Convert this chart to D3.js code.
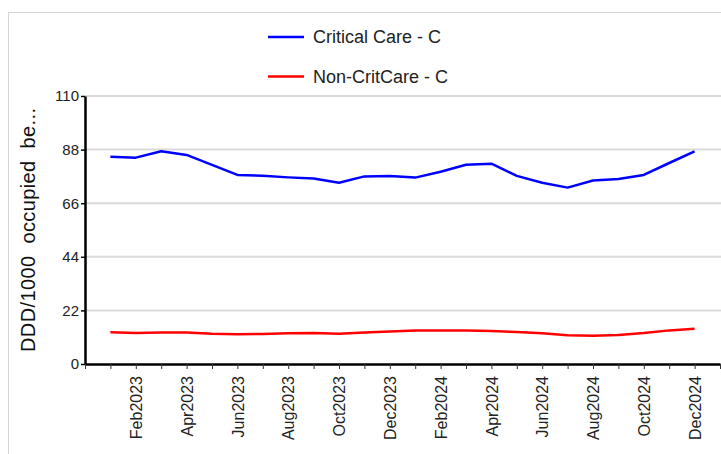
<!DOCTYPE html>
<html>
<head>
<meta charset="utf-8">
<script src="https://cdn.jsdelivr.net/npm/d3@7"></script>
<style>
  body { margin: 0; background: #fff; }
  svg { display: block; font-family: "Liberation Sans", Arial, sans-serif; }
</style>
</head>
<body>
<svg id="chart"></svg>
<script>
// month labels Jan2023 .. Dec2024
const months = ["Jan2023","Feb2023","Mar2023","Apr2023","May2023","Jun2023","Jul2023","Aug2023","Sep2023","Oct2023","Nov2023","Dec2023",
                "Jan2024","Feb2024","Mar2024","Apr2024","May2024","Jun2024","Jul2024","Aug2024","Sep2024","Oct2024","Nov2024","Dec2024"];
const criticalCare = [85.1,84.7,87.3,85.8,81.7,77.6,77.3,76.6,76.1,74.4,77.0,77.2,
                      76.5,78.9,81.8,82.2,77.2,74.4,72.4,75.3,75.9,77.6,82.5,87.3];
const nonCritCare = [13.0,12.7,12.9,12.9,12.4,12.2,12.3,12.6,12.7,12.4,12.9,13.3,
                     13.7,13.8,13.7,13.5,13.1,12.6,11.8,11.6,11.9,12.7,13.8,14.5];
const yTicks = [0, 22, 44, 66, 88, 110];
const seriesNames = ["Critical Care - C", "Non-CritCare - C"];
const seriesColors = ["#0000ff", "#ff0000"];

const width = 721, height = 454;
const svg = d3.select("#chart").attr("width", width).attr("height", height);

// outer frame
svg.append("rect")
  .attr("x", 8.5).attr("y", 12.5)
  .attr("width", 760).attr("height", 500)
  .attr("fill", "none")
  .attr("stroke", "#d4d4d4");

const x = d3.scaleLinear().domain([-1, 24]).range([85, 720]);
const y = d3.scaleLinear().domain([0, 110]).range([364, 96]);

// gridlines
svg.append("g")
  .selectAll("line")
  .data(yTicks.filter(d => d > 0))
  .join("line")
  .attr("x1", 85).attr("x2", 721)
  .attr("y1", d => y(d)).attr("y2", d => y(d))
  .attr("stroke", "#dadada")
  .attr("stroke-width", 2);

// y axis
const yAxis = svg.append("g")
  .attr("transform", "translate(85,0)")
  .call(d3.axisLeft(y).tickValues(yTicks).tickSize(4).tickSizeOuter(0).tickPadding(2));
yAxis.select(".domain").attr("stroke", "#000").attr("stroke-width", 2.5);
yAxis.selectAll(".tick line").attr("stroke", "#000").attr("stroke-width", 1.5);
yAxis.selectAll("text").attr("font-size", 15).attr("fill", "#222").attr("font-family", null);

// x axis
const xAxis = svg.append("g")
  .attr("transform", "translate(0,364)")
  .call(d3.axisBottom(x)
    .tickValues(d3.range(-1, 25))
    .tickSize(5)
    .tickSizeOuter(0)
    .tickFormat(i => (i >= 0 && i < months.length && i % 2 === 1) ? months[i] : ""));
xAxis.select(".domain").attr("stroke", "#000").attr("stroke-width", 2.5);
xAxis.selectAll(".tick line").attr("stroke", "#333");
xAxis.selectAll("text")
  .attr("font-size", 16)
  .attr("font-family", null)
  .attr("fill", "#222")
  .attr("transform", "rotate(-90)")
  .attr("text-anchor", "end")
  .attr("x", -12)
  .attr("y", 0)
  .attr("dy", "0.35em");

// y label (double spaces kept with nbsp)
svg.append("text")
  .attr("transform", "translate(35,230) rotate(-90)")
  .attr("text-anchor", "middle")
  .attr("font-size", 20)
  .attr("fill", "#111")
  .attr("textLength", 244)
  .attr("lengthAdjust", "spacing")
  .text("DDD/1000\u00a0 occupied\u00a0 be...");

// lines
const line = d3.line()
  .x((d, i) => x(i))
  .y(d => y(d));

[criticalCare, nonCritCare].forEach((s, k) => {
  svg.append("path")
    .datum(s)
    .attr("fill", "none")
    .attr("stroke", seriesColors[k])
    .attr("stroke-width", 2.5)
    .attr("stroke-linejoin", "round")
    .attr("d", line);
});

// legend
const leg = svg.append("g")
  .selectAll("g")
  .data(seriesNames)
  .join("g")
  .attr("transform", (d, i) => `translate(268,${37 + i * 39.5})`);
leg.append("line")
  .attr("x1", 0).attr("x2", 36)
  .attr("stroke", (d, i) => seriesColors[i])
  .attr("stroke-width", 2.5);
leg.append("text")
  .attr("x", 45)
  .attr("dy", "0.35em")
  .attr("font-size", 18)
  .attr("fill", "#222")
  .text(d => d);
</script>
</body>
</html>
